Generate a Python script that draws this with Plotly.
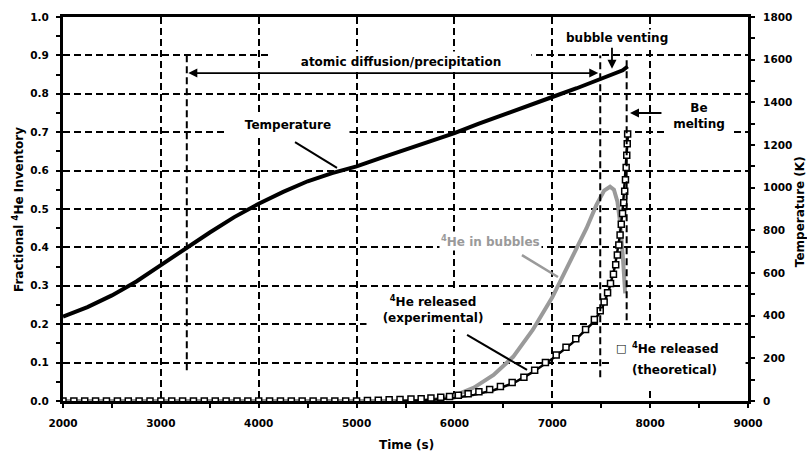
import plotly.graph_objects as go

# ---- data -------------------------------------------------------------
# specimen temperature during the anneal (K)
temp_time = [2000, 2250, 2500, 2750, 3000, 3250, 3500, 3750, 4000, 4250, 4500,
             4750, 5000, 5250, 5500, 5750, 6000, 6250, 6500, 6750, 7000, 7250,
             7500, 7650, 7720, 7770]
temp_K = [396, 440, 495, 560, 637, 715, 790, 862, 925, 980, 1030,
          1068, 1100, 1140, 1178, 1218, 1256, 1300, 1340, 1383, 1425, 1466,
          1510, 1536, 1550, 1568]

# fraction of 4He held in bubbles
bub_time = [2000, 5600, 5800, 6000, 6200, 6400, 6600, 6800, 7000, 7200, 7350,
            7450, 7530, 7590, 7630, 7665, 7695, 7720, 7745]
bub_frac = [0.0, 0.0, 0.004, 0.014, 0.035, 0.068, 0.115, 0.185, 0.27, 0.37, 0.45,
            0.51, 0.548, 0.558, 0.55, 0.52, 0.46, 0.38, 0.28]

# measured 4He release
exp_time = [5400, 5700, 6000, 6200, 6400, 6600, 6800, 7000, 7200, 7400, 7500,
            7580, 7640, 7690, 7720, 7745, 7762, 7775]
exp_frac = [0.0, 0.002, 0.008, 0.016, 0.028, 0.046, 0.075, 0.11, 0.15, 0.2, 0.235,
            0.29, 0.35, 0.43, 0.5, 0.58, 0.65, 0.70]

# model 4He release
th_time = [2000, 2111, 2222, 2333, 2444, 2556, 2667, 2778, 2889, 3000, 3111,
           3222, 3333, 3444, 3556, 3667, 3778, 3889, 4000, 4111, 4222, 4333,
           4444, 4556, 4667, 4778, 4889, 5000, 5111, 5222, 5333, 5444, 5556,
           5660, 5760, 5860, 5950,
           6040, 6140, 6250, 6360, 6470, 6590, 6710, 6820, 6930, 7040, 7140,
           7240, 7340, 7430, 7490, 7530, 7565, 7595, 7625, 7648, 7665, 7680,
           7693, 7705, 7718, 7730, 7740, 7748, 7755, 7761, 7766, 7770]
th_frac = [0.0, 0.0, 0.0, 0.0, 0.0, 0.0, 0.0, 0.0, 0.0, 0.0, 0.0,
           0.0, 0.0, 0.0, 0.0, 0.0, 0.0, 0.0, 0.0, 0.0, 0.0, 0.0,
           0.0, 0.0, 0.0, 0.0, 0.0, 0.0, 0.001, 0.002, 0.003, 0.004, 0.005,
           0.006, 0.008, 0.010, 0.012,
           0.015, 0.019, 0.024, 0.030, 0.038, 0.048, 0.062, 0.080, 0.100, 0.120, 0.140,
           0.162, 0.186, 0.212, 0.235, 0.258, 0.282, 0.306, 0.330, 0.355, 0.380, 0.406,
           0.432, 0.460, 0.488, 0.516, 0.546, 0.576, 0.608, 0.640, 0.670, 0.695]

# regime boundaries (s): start of diffusion, bubble venting, Be melting
t_diffusion = 3265
t_venting = 7490
t_melt = 7760

FONT = "DejaVu Sans"
GRAY = "#9a9a9a"
DASH = "7px,4px"

fig = go.Figure()

fig.add_trace(go.Scatter(x=bub_time, y=bub_frac, mode="lines",
                         line=dict(color=GRAY, width=4), showlegend=False))
fig.add_trace(go.Scatter(x=exp_time, y=exp_frac, mode="lines",
                         line=dict(color="black", width=2.5), showlegend=False))
fig.add_trace(go.Scatter(x=th_time, y=th_frac, mode="markers",
                         marker=dict(symbol="square", size=6, color="white",
                                     line=dict(color="black", width=1.5)),
                         showlegend=False))
fig.add_trace(go.Scatter(x=temp_time, y=temp_K, mode="lines", yaxis="y2",
                         line=dict(color="black", width=4), showlegend=False))

tickfont = dict(family=FONT, size=10.5, color="black", weight="bold")
fig.update_layout(
    width=807, height=453,
    margin=dict(l=63, r=59, t=17, b=52),
    paper_bgcolor="white", plot_bgcolor="white",
    xaxis=dict(range=[2000, 9000], dtick=1000, tick0=2000,
               showline=True, linecolor="black", linewidth=3, mirror=True,
               showgrid=True, gridcolor="black", gridwidth=2, griddash=DASH,
               ticks="outside", ticklen=4, tickwidth=2, tickcolor="black",
               minor=dict(dtick=500, ticks="outside", ticklen=4, tickwidth=2,
                          tickcolor="black", showgrid=False),
               tickfont=tickfont, ticklabelstandoff=6, zeroline=False),
    yaxis=dict(range=[0, 1], dtick=0.1, tickformat=".1f",
               showline=True, linecolor="black", linewidth=3,
               showgrid=True, gridcolor="black", gridwidth=2, griddash=DASH,
               ticks="outside", ticklen=4, tickwidth=2, tickcolor="black",
               minor=dict(dtick=0.05, ticks="outside", ticklen=4, tickwidth=2,
                          tickcolor="black", showgrid=False),
               tickfont=tickfont, ticklabelstandoff=5, zeroline=False),
    yaxis2=dict(range=[0, 1800], dtick=200, overlaying="y", side="right",
                showline=True, linecolor="black", linewidth=3, showgrid=False,
                ticks="outside", ticklen=4, tickwidth=2, tickcolor="black",
                minor=dict(dtick=100, ticks="outside", ticklen=4, tickwidth=2,
                           tickcolor="black"),
                tickfont=tickfont, ticklabelstandoff=6, zeroline=False),
)

# regime guide lines
guide = dict(color="black", width=2, dash=DASH)
fig.add_shape(type="line", x0=t_diffusion, x1=t_diffusion, y0=0.08, y1=0.9,
              xref="x", yref="y", line=guide)
fig.add_shape(type="line", x0=t_venting, x1=t_venting, y0=0.062, y1=0.9,
              xref="x", yref="y", line=guide)
fig.add_shape(type="line", x0=t_melt, x1=t_melt, y0=0.21, y1=0.9,
              xref="x", yref="y", line=guide)

# pointer lines from labels to curves
fig.add_shape(type="line", x0=4371, y0=0.674, x1=4800, y1=0.607,
              xref="x", yref="y", line=dict(color="black", width=2))
fig.add_shape(type="line", x0=6690, y0=0.380, x1=7058, y1=0.323,
              xref="x", yref="y", line=dict(color=GRAY, width=2.5))
fig.add_shape(type="line", x0=6129, y0=0.172, x1=6742, y1=0.081,
              xref="x", yref="y", line=dict(color="black", width=2))

# white panel behind the model key
fig.add_shape(type="rect", x0=7610, x1=8975, y0=0.034, y1=0.19,
              xref="x", yref="y", fillcolor="white", line=dict(width=0),
              layer="above")

lab = dict(family=FONT, size=12, color="black", weight="bold")

def label(text, x, y, **kw):
    opts = dict(x=x, y=y, xref="x", yref="y", text=text, showarrow=False,
                font=lab, bgcolor="white", borderpad=1)
    opts.update(kw)
    fig.add_annotation(**opts)

label("atomic diffusion/precipitation", 5454, 0.883, width=258, height=17)
label("bubble venting", 7661, 0.945)
label("Be<br>melting", 8500, 0.742, width=66, height=36)
label("Temperature", 4299, 0.719, width=120, height=16)
label("<sup>4</sup>He in bubbles", 6364, 0.417,
      font=dict(family=FONT, size=12, color=GRAY, weight="bold"))
label("<sup>4</sup>He released<br>(experimental)", 5781, 0.24, width=130, height=38)
label("\u25a1", 7700, 0.138, bgcolor="rgba(0,0,0,0)",
      font=dict(family=FONT, size=11, color="black"))
label("<sup>4</sup>He released", 8250, 0.138, bgcolor="rgba(0,0,0,0)")
label("(theoretical)", 8250, 0.081, bgcolor="rgba(0,0,0,0)")

# double-headed span arrow for the diffusion regime
fig.add_annotation(x=7470, y=0.854, ax=t_diffusion, ay=0.854,
                   xref="x", yref="y", axref="x", ayref="y", text="",
                   showarrow=True, arrowhead=2, arrowside="end+start",
                   arrowsize=1, arrowwidth=1.8, arrowcolor="black")
# bubble venting arrow
fig.add_annotation(x=7610, y=0.865, ax=7610, ay=0.924,
                   xref="x", yref="y", axref="x", ayref="y", text="",
                   showarrow=True, arrowhead=2, arrowsize=1, arrowwidth=1.8,
                   arrowcolor="black")
# Be melting arrow
fig.add_annotation(x=7794, y=0.75, ax=8131, ay=0.75,
                   xref="x", yref="y", axref="x", ayref="y", text="",
                   showarrow=True, arrowhead=2, arrowsize=1, arrowwidth=1.8,
                   arrowcolor="black")

# axis titles
title_font = dict(family=FONT, size=12, color="black", weight="bold")
fig.add_annotation(text="Time (s)", x=0.502, y=-0.1146, xref="paper", yref="paper",
                   showarrow=False, font=title_font, yanchor="middle")
fig.add_annotation(text="Fractional <sup>4</sup>He Inventory", x=-0.0657, y=0.5,
                   xref="paper", yref="paper", showarrow=False, font=title_font,
                   textangle=-90, xanchor="center", yanchor="middle")
fig.add_annotation(text="Temperature (K)", x=1.076, y=0.492,
                   xref="paper", yref="paper", showarrow=False, font=title_font,
                   textangle=-90, xanchor="center", yanchor="middle")

fig.write_html("out.html")
